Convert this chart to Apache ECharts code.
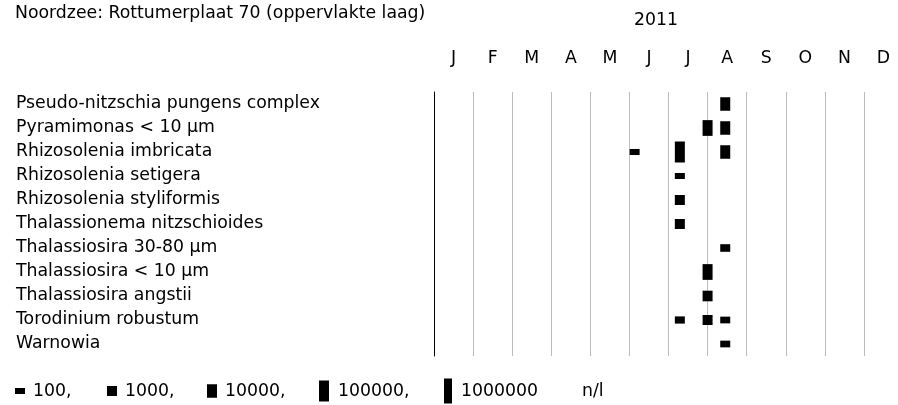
<!DOCTYPE html>
<html>
<head>
<meta charset="utf-8">
<script src="https://cdn.jsdelivr.net/npm/echarts@6/dist/echarts.min.js"></script>
<style>
html,body{margin:0;padding:0;background:#fff;}
#chart{width:898px;height:405px;}
</style>
</head>
<body>
<div id="chart"></div>
<script>
// ---- data ----
const chartTitle = 'Noordzee: Rottumerplaat 70 (oppervlakte laag)';
const yearLabel = '2011';
const months = ['J','F','M','A','M','J','J','A','S','O','N','D'];
const species = [
  'Pseudo-nitzschia pungens complex',
  'Pyramimonas < 10 µm',
  'Rhizosolenia imbricata',
  'Rhizosolenia setigera',
  'Rhizosolenia styliformis',
  'Thalassionema nitzschioides',
  'Thalassiosira 30-80 µm',
  'Thalassiosira < 10 µm',
  'Thalassiosira angstii',
  'Torodinium robustum',
  'Warnowia'
];
const sampleDates = ['2011-06-05', '2011-07-10', '2011-08-01', '2011-08-15'];
// values (n/l) per species, aligned with sampleDates; null = not found
const pseudoNitzschia   = [null, null,   null,  10000];
const pyramimonas       = [null, null,   20000, 10000];
const rhizImbricata     = [100,  100000, null,  10000];
const rhizSetigera      = [null, 100,    null,  null];
const rhizStyliformis   = [null, 1000,   null,  null];
const thalassionema     = [null, 1000,   null,  null];
const thal30to80        = [null, null,   null,  250];
const thalSmall         = [null, null,   20000, null];
const thalAngstii       = [null, null,   1500,  null];
const torodinium        = [null, 200,    1000,  150];
const warnowia          = [null, null,   null,  150];
const legendValues = [100, 1000, 10000, 100000, 1000000];
const legendLabels = ['100,', '1000,', '10000,', '100000,', '1000000'];
const unitLabel = 'n/l';

const speciesValues = [pseudoNitzschia, pyramimonas, rhizImbricata, rhizSetigera,
  rhizStyliformis, thalassionema, thal30to80, thalSmall, thalAngstii, torodinium, warnowia];

// ---- helpers ----
function monthPos(dateStr) {
  const [y, m, d] = dateStr.split('-').map(Number);
  const dim = new Date(y, m, 0).getDate();
  return (m - 1) + (d - 1) / dim;
}
const sizeLogs = [2, 3, 4, 5, 6];
const sizeHeights = [6, 10, 13.5, 21, 25];
function markHeight(v) {
  const l = Math.log10(v);
  if (l <= sizeLogs[0]) return sizeHeights[0];
  for (let i = 1; i < sizeLogs.length; i++) {
    if (l <= sizeLogs[i]) {
      const t = (l - sizeLogs[i-1]) / (sizeLogs[i] - sizeLogs[i-1]);
      return sizeHeights[i-1] + t * (sizeHeights[i] - sizeHeights[i-1]);
    }
  }
  return sizeHeights[sizeHeights.length - 1];
}
function markWidth(v) { return v >= 1000000 ? 8 : 10; }

const seriesData = [];
speciesValues.forEach((vals, si) => {
  vals.forEach((v, di) => {
    if (v != null) seriesData.push([monthPos(sampleDates[di]), si, v]);
  });
});

const FONT = 'DejaVu Sans';
const FS = 17.3;

// legend graphics
const legendY = 391;
const legendMarkX = [20, 112, 212, 324, 448];
const legendTextX = [33, 125, 225, 338, 461];
const graphic = [];
legendValues.forEach((v, i) => {
  const h = markHeight(v), w = markWidth(v);
  graphic.push({type: 'rect', left: legendMarkX[i] - w / 2, top: legendY - h / 2,
    shape: {width: w, height: h}, style: {fill: '#000'}});
  graphic.push({type: 'text', left: legendTextX[i], top: legendY - 8,
    style: {text: legendLabels[i], font: FS + 'px ' + FONT, fill: '#000'}});
});
graphic.push({type: 'text', left: 582, top: legendY - 8,
  style: {text: unitLabel, font: FS + 'px ' + FONT, fill: '#000'}});
graphic.push({type: 'text', x: 656, y: 21,
  style: {text: yearLabel, font: FS + 'px ' + FONT, fill: '#000', align: 'center', verticalAlign: 'middle'}});

const chart = echarts.init(document.getElementById('chart'), null, {renderer: 'canvas'});
chart.setOption({
  animation: false,
  backgroundColor: '#fff',
  title: [
    {text: chartTitle, left: 10, top: 0, textStyle: {fontFamily: FONT, fontSize: FS, fontWeight: 'normal', color: '#000'}}
  ],
  grid: {left: 434, top: 92, width: 469, height: 264, containLabel: false, outerBoundsMode: 'none'},
  xAxis: [
    {type: 'value', min: 0, max: 12, interval: 1, position: 'top',
     axisLine: {show: false}, axisTick: {show: false}, axisLabel: {show: false},
     splitLine: {show: true, lineStyle: {color: '#bdbdbd', width: 1}}},
    {type: 'category', data: months, position: 'top', boundaryGap: true,
     axisLine: {show: false}, axisTick: {show: false}, splitLine: {show: false},
     axisLabel: {margin: 25, color: '#000', fontFamily: FONT, fontSize: FS}}
  ],
  yAxis: {type: 'category', data: species, inverse: true,
    axisLine: {show: true, lineStyle: {color: '#000', width: 1}},
    axisTick: {show: false}, splitLine: {show: false},
    axisLabel: {align: 'left', margin: 418, padding: [4, 0, 0, 0], color: '#000', fontFamily: FONT, fontSize: FS}},
  series: [{
    type: 'custom',
    xAxisIndex: 0,
    data: seriesData,
    encode: {x: 0, y: 1},
    renderItem: function (params, api) {
      const c = api.coord([api.value(0), api.value(1)]);
      const v = api.value(2);
      const h = markHeight(v), w = markWidth(v);
      return {type: 'rect', shape: {x: c[0] - w / 2, y: c[1] - h / 2, width: w, height: h},
        style: {fill: '#000'}};
    }
  }],
  graphic: graphic
});
</script>
</body>
</html>
